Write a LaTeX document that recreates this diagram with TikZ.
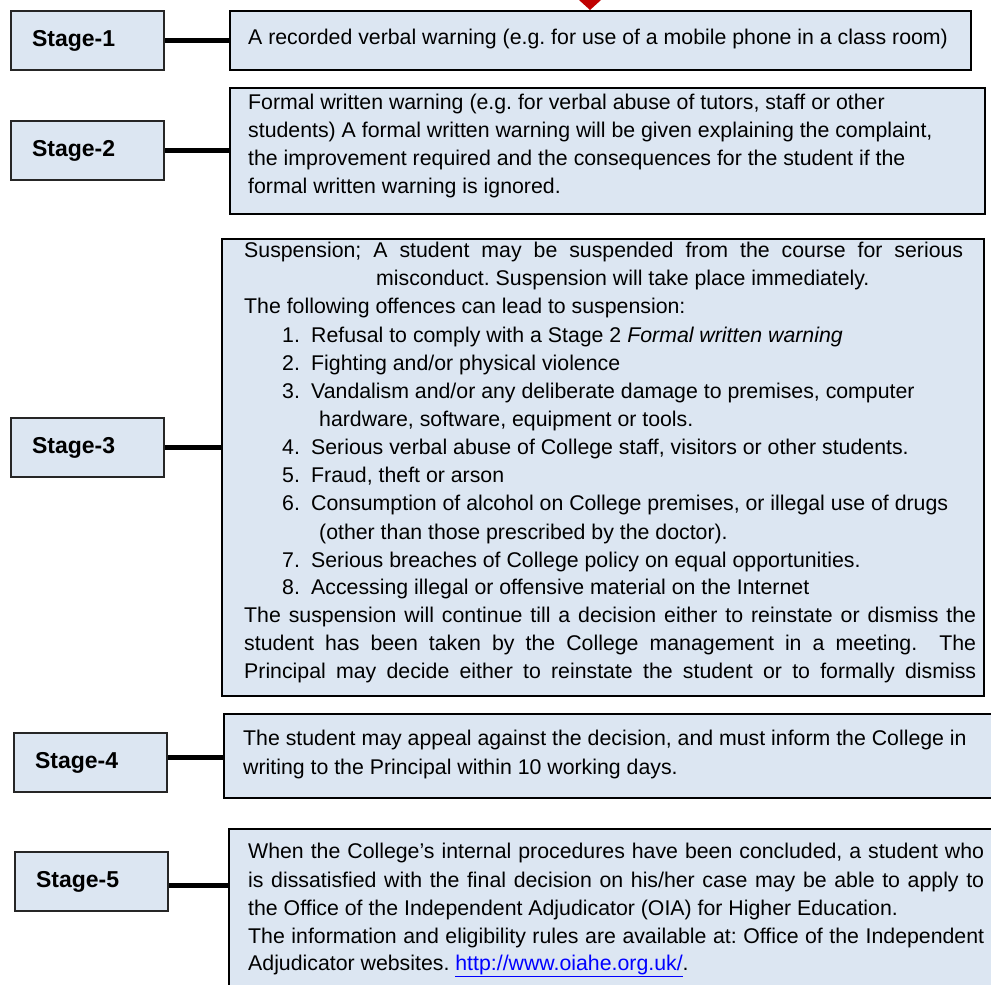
\documentclass[tikz,border=0pt]{standalone}
\usepackage{fontspec}
\setmainfont{Liberation Sans}
\frenchspacing
\definecolor{boxfill}{RGB}{220,230,242}
\definecolor{arrowred}{RGB}{192,0,0}
\definecolor{linkblue}{RGB}{0,0,255}
\newcommand{\numitem}[2]{\makebox[29pt][l]{#1}#2}
\begin{document}
\begin{tikzpicture}[x=1pt,y=-1pt,
  stagebox/.style={draw=black!85, line width=2pt, fill=boxfill, rectangle,
    inner xsep=21pt, inner ysep=0pt, text width=111pt, align=left,
    minimum height=59pt, anchor=north west,
    font=\fontsize{23}{28}\selectfont\bfseries},
  contentbox/.style={draw=black, line width=2pt, fill=boxfill, rectangle,
    inner sep=0pt, anchor=north west},
  txt/.style={anchor=base west, inner sep=0pt, font=\fontsize{21.3}{28}\selectfont\frenchspacing},
  link/.style={line width=5pt}]
\useasboundingbox (0,0) rectangle (991,985);
\clip (0,0) rectangle (991,985);

% stage boxes
\node[stagebox] (s1) at (10,10) {Stage-1};
\node[stagebox] (s2) at (10,120) {Stage-2};
\node[stagebox] (s3) at (10,417) {Stage-3};
\node[stagebox] (s4) at (13,732) {Stage-4};
\node[stagebox] (s5) at (14,851) {Stage-5};

% content boxes
\node[contentbox, minimum width=741pt, minimum height=59pt] (c1) at (229,10) {};
\node[contentbox, minimum width=755pt, minimum height=126pt] (c2) at (229,87) {};
\node[contentbox, minimum width=762pt, minimum height=457pt] (c3) at (221,238) {};
\node[contentbox, minimum width=780pt, minimum height=84pt] (c4) at (223,713) {};
\node[contentbox, minimum width=780pt, minimum height=180pt] (c5) at (228,828) {};

% connectors
\draw[link] (s1.east) -- (s1.east -| c1.west);
\draw[link] (s2.east) -- (s2.east -| c2.west);
\draw[link] (s3.east) -- (s3.east -| c3.west);
\draw[link] ([yshift=5pt]s4.east) -- ([yshift=5pt]s4.east -| c4.west);
\draw[link] ([yshift=-4pt]s5.east) -- ([yshift=-4pt]s5.east -| c5.west);

% red arrow tip at top
\fill[arrowred] (579,0) -- (601,0) -- (590,10) -- cycle;

% box 1
\node[txt] (t1) at (248,44) {A recorded verbal warning (e.g. for use of a mobile phone in a class room)};

% box 2
\node[txt] (t2a) at (248,109) {Formal written warning (e.g. for verbal abuse of tutors, staff or other};
\node[txt] (t2b) at (248,137) {students) A formal written warning will be given explaining the complaint,};
\node[txt] (t2c) at (248,165) {the improvement required and the consequences for the student if the};
\node[txt] (t2d) at (248,193) {formal written warning is ignored.};

% box 3
\node[txt] (t3a) at (244,257) {\makebox[719pt][s]{Suspension; A student may be suspended from the course for serious}};
\node[txt] (t3b) at (376,285) {misconduct. Suspension will take place immediately.};
\node[txt] (t3c) at (244,313) {The following offences can lead to suspension:};
\node[txt] (t3d) at (282,342) {\numitem{1.}{Refusal to comply with a Stage 2 \textit{Formal written warning}}};
\node[txt] (t3e) at (282,370) {\numitem{2.}{Fighting and/or physical violence}};
\node[txt] (t3f) at (282,398) {\numitem{3.}{Vandalism and/or any deliberate damage to premises, computer}};
\node[txt] (t3g) at (319,426) {hardware, software, equipment or tools.};
\node[txt] (t3h) at (282,454) {\numitem{4.}{Serious verbal abuse of College staff, visitors or other students.}};
\node[txt] (t3i) at (282,482) {\numitem{5.}{Fraud, theft or arson}};
\node[txt] (t3j) at (282,510) {\numitem{6.}{Consumption of alcohol on College premises, or illegal use of drugs}};
\node[txt] (t3k) at (319,539) {(other than those prescribed by the doctor).};
\node[txt] (t3l) at (282,567) {\numitem{7.}{Serious breaches of College policy on equal opportunities.}};
\node[txt] (t3m) at (282,594) {\numitem{8.}{Accessing illegal or offensive material on the Internet}};
\node[txt] (t3n) at (244,622) {\makebox[732pt][s]{The suspension will continue till a decision either to reinstate or dismiss the}};
\node[txt] (t3o) at (244,650) {\makebox[732pt][s]{student has been taken by the College management in a meeting.\ \ The}};
\node[txt] (t3p) at (244,678) {\makebox[732pt][s]{Principal may decide either to reinstate the student or to formally dismiss}};

% box 4
\node[txt] (t4a) at (243,745) {The student may appeal against the decision, and must inform the College in};
\node[txt] (t4b) at (243,774) {writing to the Principal within 10 working days.};

% box 5
\node[txt] (t5a) at (248,858) {\makebox[736pt][s]{When the College’s internal procedures have been concluded, a student who}};
\node[txt] (t5b) at (248,887) {\makebox[736pt][s]{is dissatisfied with the final decision on his/her case may be able to apply to}};
\node[txt] (t5c) at (248,915) {the Office of the Independent Adjudicator (OIA) for Higher Education.};
\node[txt] (t5d) at (248,943) {\makebox[736pt][s]{The information and eligibility rules are available at: Office of the Independent}};
\node[txt] (t5e) at (248,970) {Adjudicator websites. {\color{linkblue}\underline{http://www.oiahe.org.uk/}}.};
\end{tikzpicture}
\end{document}
